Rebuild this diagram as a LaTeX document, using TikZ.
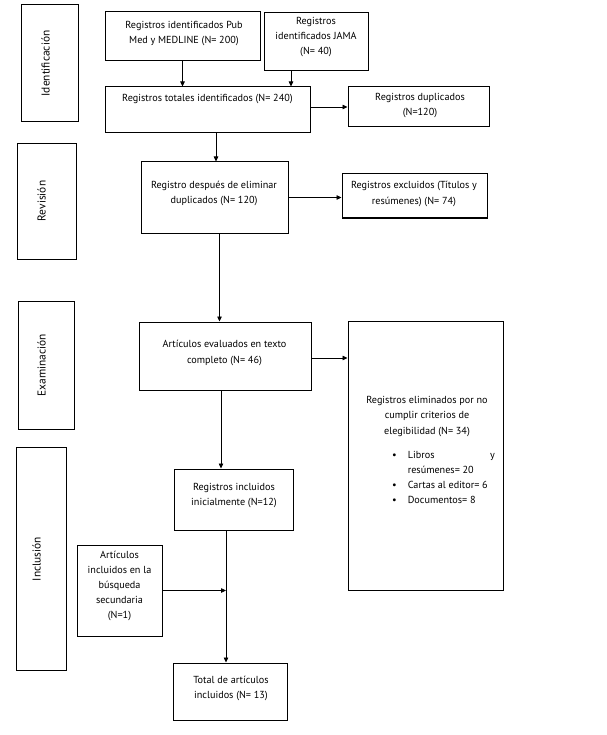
\documentclass[tikz,border=0pt]{standalone}
\usepackage{fontspec}
\setmainfont{PT Sans}
\usetikzlibrary{arrows.meta}
\begin{document}
\begin{tikzpicture}[x=1pt,y=-1pt,
  bx/.style={draw=black,line width=1pt,inner sep=0pt,rectangle},
  txt/.style={inner sep=0pt,align=center,font=\fontsize{10.2}{15.2}\selectfont},
  side/.style={inner sep=0pt,rotate=90,font=\fontsize{11.4}{15.2}\selectfont},
  arr/.style={line width=0.75pt,-{Triangle[length=5pt,width=4.5pt]}},
  ln/.style={line width=0.75pt}]
\useasboundingbox[fill=white] (0,0) rectangle (606,735);
% side boxes
\node[bx,minimum width=57pt,minimum height=117pt] (idb) at (49.5,63.5) {};
\node[side] (idt) at (45.5,63.5) {Identificación};
\node[bx,minimum width=59pt,minimum height=115pt] (revb) at (46.5,201.5) {};
\node[side] (revt) at (41.5,201) {Revisión};
\node[bx,minimum width=56pt,minimum height=128pt] (exab) at (46,365) {};
\node[side] (exat) at (41.5,365) {Examinación};
\node[bx,minimum width=50pt,minimum height=223pt] (incb) at (41,558.5) {};
\node[side] (inct) at (36.5,559) {Inclusión};
% main boxes
\node[bx,minimum width=155pt,minimum height=49pt] (pub) at (182.5,36.5) {};
\node[txt] (pubt) at (184,33.5) {Registros identificados Pub\\Med y MEDLINE (N= 200)};
\node[bx,minimum width=104pt,minimum height=58pt] (jama) at (316,42) {};
\node[txt] (jamat) at (316,37) {Registros\\identificados JAMA\\(N= 40)};
\node[bx,minimum width=205pt,minimum height=46pt] (tot) at (207.5,110) {};
\node[txt] (tott) at (207.5,99) {Registros totales identificados (N= 240)};
\node[bx,minimum width=141pt,minimum height=40pt] (dup) at (418.5,107) {};
\node[txt] (dupt) at (420,105.5) {Registros duplicados\\(N=120)};
\node[bx,minimum width=147pt,minimum height=71pt] (rev) at (214.5,197.5) {};
\node[txt] (revtx) at (214,193.5) {Registro después de eliminar\\duplicados (N= 120)};
\node[bx,minimum width=145pt,minimum height=44pt] (exc) at (414.5,196) {};
\node[txt] (exct) at (414,194) {Registros excluidos (Títulos y\\resúmenes) (N= 74)};
\node[bx,minimum width=172pt,minimum height=68pt] (art) at (225,356) {};
\node[txt] (artt) at (224.5,353) {Artículos evaluados en texto\\completo (N= 46)};
\node[bx,minimum width=155pt,minimum height=269pt] (elim) at (425.5,455.5) {};
\node[txt] (elimt) at (427,416.5) {Registros eliminados por no\\cumplir criterios de\\elegibilidad (N= 34)};
\node[inner sep=0pt,font=\fontsize{10.2}{15.2}\selectfont,anchor=north west] (eliml) at (392,447.5) {%
  \begin{tabular}{@{}l@{\hspace{11pt}}p{87pt}@{}}
  \textbullet & Libros\hfill y\\
   & resúmenes= 20\\
  \textbullet & Cartas al editor= 6\\
  \textbullet & Documentos= 8
  \end{tabular}};
\node[bx,minimum width=119pt,minimum height=61pt] (inc) at (233.5,499.5) {};
\node[txt] (inctx) at (234,495.5) {Registros incluidos\\inicialmente (N=12)};
\node[bx,minimum width=85pt,minimum height=91pt] (sec) at (119.5,590.5) {};
\node[txt] (sect) at (119.5,586) {Artículos\\incluidos en la\\búsqueda\\secundaria\\(N=1)};
\node[bx,minimum width=114pt,minimum height=57pt] (total) at (230,691.5) {};
\node[txt] (totalt) at (231,688.5) {Total de artículos\\incluidos (N= 13)};
% connectors
\draw[arr] (pub.south) -- (pub.south |- tot.north);
\draw[arr] ([xshift=-25pt]jama.south) -- ([xshift=-25pt]jama.south |- tot.north);
\draw[arr] (tot.east |- dup.west) -- (dup.west);
\draw[arr] ([xshift=1.5pt]rev.north |- tot.south) -- ([xshift=1.5pt]rev.north);
\draw[arr] (rev.east) -- (rev.east -| exc.west);
\draw[arr] ([xshift=5pt]rev.south) -- ([xshift=5pt]rev.south |- art.north);
\draw[arr] ([yshift=-2pt]art.east) -- ([yshift=-2pt]art.east -| elim.west);
\draw[arr] ([xshift=-4pt]art.south) -- ([xshift=-4pt]art.south |- inc.north);
\coordinate (jn) at ([xshift=-7.5pt]inc.south |- sec.east);
\draw[arr] ([xshift=-7.5pt]inc.south) -- ([xshift=-7.5pt]inc.south |- total.north);
\draw[arr] (sec.east) -- (jn);
\end{tikzpicture}
\end{document}
